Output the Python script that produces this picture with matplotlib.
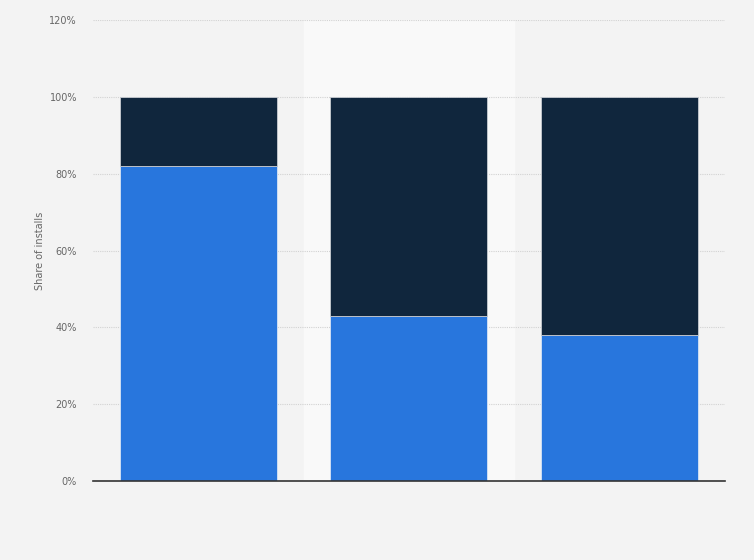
import numpy as np
import matplotlib.pyplot as plt

# data
categories = ['A', 'B', 'C']
share_blue = [82, 43, 38]
share_navy = [18, 57, 62]
yticks = [0, 20, 40, 60, 80, 100, 120]

bg = '#f3f3f3'
fig = plt.figure(figsize=(7.54, 5.6), dpi=100, facecolor=bg)
ax = fig.add_axes([0.1233, 0.141, 0.8382, 0.823])
ax.set_facecolor(bg)

x = np.arange(len(categories))
# highlighted middle column
ax.axvspan(0.5, 1.5, color='#f9f9f9', zorder=0)

ax.bar(x, share_blue, width=0.745, color='#2876dd', edgecolor='#d8e4f5', linewidth=0.6, zorder=3)
ax.bar(x, share_navy, width=0.745, bottom=share_blue, color='#10263d', edgecolor='#c8ccd2', linewidth=0.6, zorder=3)

ax.set_xlim(-0.5, 2.5)
ax.set_ylim(0, 120)
ax.set_yticks(yticks)
ax.set_yticklabels([f'{v}%' for v in yticks], color='#666666', fontsize=7)
ax.set_xticks([])
ax.tick_params(axis='y', length=0, pad=11.5)
ax.grid(axis='y', color='#d2d2d2', linestyle=(0, (1, 1)), linewidth=0.8, zorder=1)
ax.set_ylabel('Share of installs', color='#666666', fontsize=7, labelpad=3)

for s in ['top', 'right', 'left']:
    ax.spines[s].set_visible(False)
ax.spines['bottom'].set_color('#333333')
ax.spines['bottom'].set_linewidth(1.2)
ax.spines['bottom'].set_zorder(4)

plt.savefig('out.png', dpi=100, facecolor=bg)
